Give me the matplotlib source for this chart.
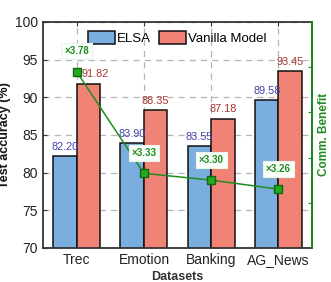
import numpy as np
import matplotlib
matplotlib.use("Agg")
import matplotlib.pyplot as plt

plt.rcParams["font.family"] = ["Liberation Sans", "DejaVu Sans"]

# dados
datasets = ["Trec", "Emotion", "Banking", "AG_News"]
elsa = [82.20, 83.90, 83.55, 89.58]
vanilla = [91.82, 88.35, 87.18, 93.45]
benefit = [3.78, 3.33, 3.30, 3.26]

c_elsa = "#7aaedf"
c_van = "#f08375"
c_green = "#1e8c1e"

fig = plt.figure(figsize=(3.31, 2.82), dpi=100)
ax = fig.add_axes([0.130, 0.121, 0.813, 0.801])

x = np.arange(len(datasets))
w = 0.35

ax.set_axisbelow(True)
ax.grid(True, color="#b5b5b5", linestyle=(0, (5, 4)), linewidth=0.9)
b1 = ax.bar(x - w / 2, elsa, w, color=c_elsa, edgecolor="#111111", linewidth=1.1, label="ELSA")
b2 = ax.bar(x + w / 2, vanilla, w, color=c_van, edgecolor="#111111", linewidth=1.1, label="Vanilla Model")

# rótulos dos valores
for i in range(len(datasets)):
    ax.annotate(f"{elsa[i]:.2f}", (x[i] - w / 2, elsa[i]), xytext=(0, 3),
                textcoords="offset points", ha="center", va="bottom",
                fontsize=7.8, color="#4343ad")
    dx = 5 if i == 0 else 0
    ax.annotate(f"{vanilla[i]:.2f}", (x[i] + w / 2, vanilla[i]), xytext=(dx, 3),
                textcoords="offset points", ha="center", va="bottom",
                fontsize=7.8, color="#a83232")

ax.set_xlim(-0.5, 3.5)
ax.set_ylim(70, 100)
ax.set_yticks([70, 75, 80, 85, 90, 95, 100])
ax.set_xticks(x)
ax.set_xticklabels(datasets)
ax.tick_params(direction="in", labelsize=10, colors="#333333", top=True, length=3)
ax.tick_params(axis="both", labelcolor="#222222")
ax.set_xlabel("Datasets", fontsize=9, fontweight="bold", color="#333333", labelpad=3)
ax.set_ylabel("Test accuracy (%)", fontsize=9, fontweight="bold", color="#111111", labelpad=3)
for s in ax.spines.values():
    s.set_color("#333333")
    s.set_linewidth(1.3)

ax.legend(loc="upper center", ncol=2, frameon=False, fontsize=9.5,
          handlelength=2.0, handleheight=1.1, handletextpad=0.2,
          columnspacing=0.6, borderaxespad=0.3)

# eixo da direita - benefício de comunicação
ax2 = ax.twinx()
ax2.plot(x, benefit, color=c_green, linewidth=1.1, marker="s", markersize=5.5,
         markerfacecolor="#22aa22", markeredgecolor="#116611")
for i in range(len(datasets)):
    ax2.annotate(f"×{benefit[i]:.2f}", (x[i], benefit[i]), xytext=(0, 11),
                 textcoords="offset points", ha="center", va="bottom",
                 fontsize=7, fontweight="bold", color=c_green,
                 bbox=dict(boxstyle="square,pad=0.3", fc="#fbfffb", ec="#e8f6e8", lw=0.8))
ax2.set_ylim(3.0, 4.0)
ax2.set_yticks([3.2, 3.4, 3.6, 3.8])
ax2.set_yticklabels([])
ax2.tick_params(direction="in", colors=c_green, length=3)
ax2.set_ylabel("Comm. Benefit", fontsize=8.5, fontweight="bold", color=c_green, labelpad=1)
ax2.spines["right"].set_color(c_green)
ax2.spines["right"].set_linewidth(1.3)
for k in ["left", "top", "bottom"]:
    ax2.spines[k].set_visible(False)

fig.savefig("out.png", dpi=100)
